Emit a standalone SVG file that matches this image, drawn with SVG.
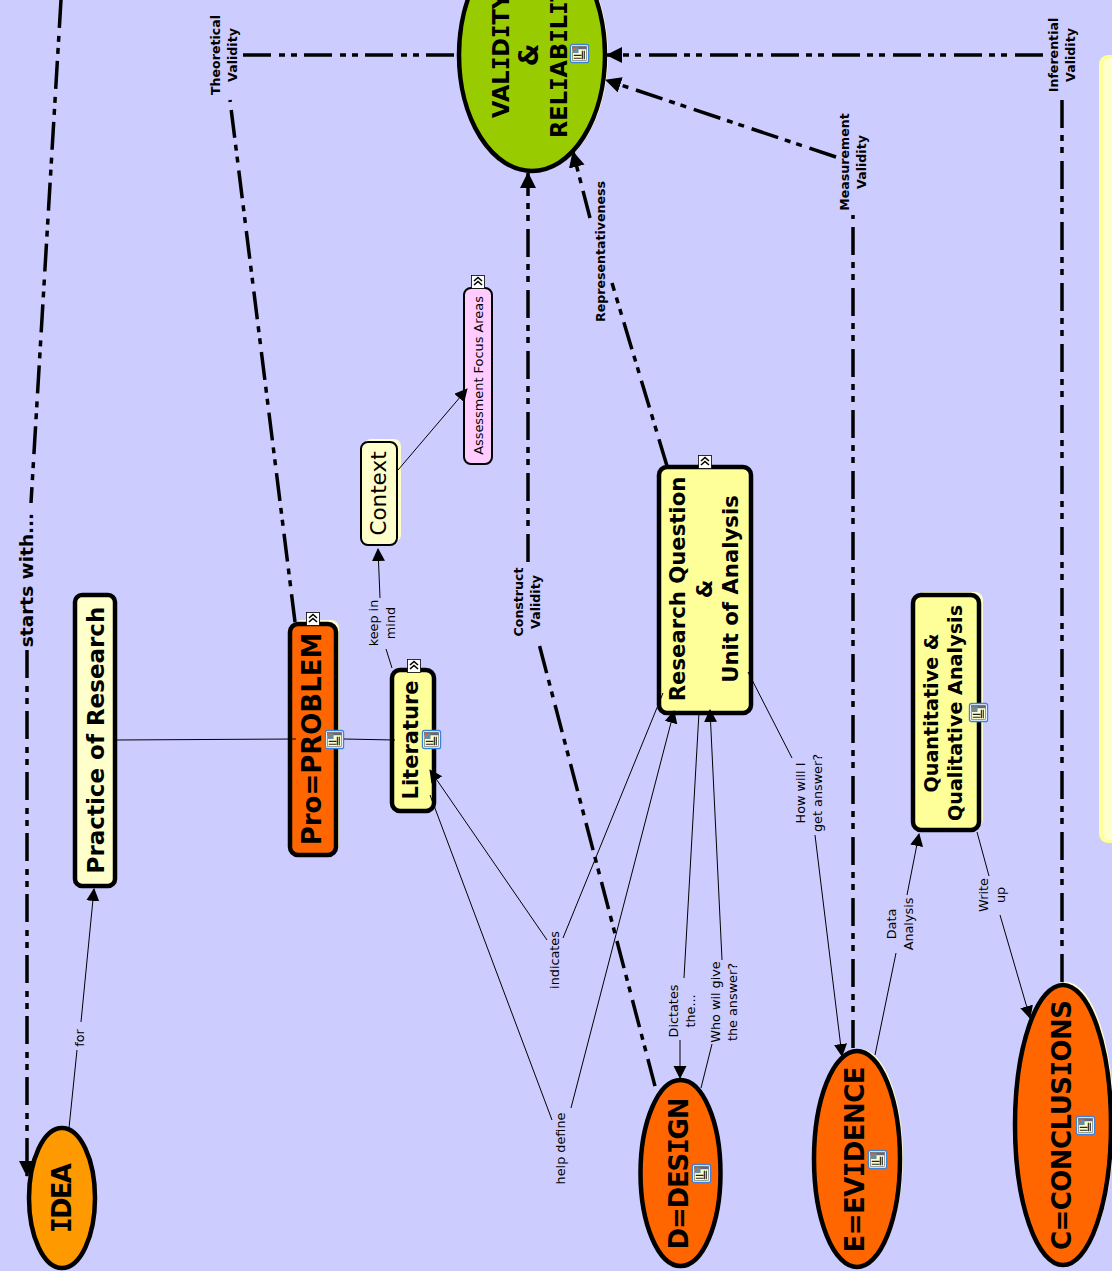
<svg xmlns="http://www.w3.org/2000/svg" xmlns:xlink="http://www.w3.org/1999/xlink" width="1112" height="1271" viewBox="0 0 1112 1271">
<style>
text{font-family:"DejaVu Sans",sans-serif;text-anchor:middle;fill:#000}
.m{font-weight:700;font-size:26px}
.v{font-weight:700;font-size:22.500px;text-anchor:start}
.i{font-family:"DejaVu Sans Mono",monospace}
.b{font-weight:700}
.l{font-size:12.800px}
.lb{font-size:12.600px;font-weight:700}
.n{stroke:#000;stroke-width:4.5}
.s{fill:#ffffcc}
.t{fill:none;stroke:#000;stroke-width:1}
.d{fill:none;stroke:#000;stroke-width:3.5;stroke-dasharray:28 8 6 6 6 7}
</style>
<defs>
<marker id="a" markerUnits="userSpaceOnUse" markerWidth="16" markerHeight="16" refX="12" refY="6.500" orient="auto"><path d="M0 0L13 6.500L0 13Z" fill="#000"/></marker>
<marker id="A" markerUnits="userSpaceOnUse" markerWidth="18" markerHeight="18" refX="15" refY="8" orient="auto"><path d="M0 0L16 8L0 16Z" fill="#000"/></marker>
<symbol id="ic" viewBox="0 0 20 20" overflow="visible">
<rect x=".5" y=".5" width="19" height="19" rx="2" fill="#fff" stroke="#3a82e0" stroke-width="1.400"/>
<rect x="2.500" y="2.500" width="15" height="15" fill="#ffffcc" stroke="#555" stroke-width=".6"/>
<rect x="2.500" y="2.500" width="15" height="3" fill="#667"/>
<rect x="3" y="3.500" width="6" height="6" fill="#6a8aa0"/>
<rect x="3.500" y="4" width="2" height="2" fill="#e2662c"/>
<path d="M4 12h8M4 15h8M13 7v9M15 7v9" stroke="#222" stroke-width="1.200"/>
</symbol>
<symbol id="ex" viewBox="0 0 14 14" overflow="visible">
<rect x=".5" y=".5" width="13" height="13" fill="#fff" stroke="#000" stroke-width=".8"/>
<path d="M3 6l4-3.500l4 3.500M3 10l4-3.500l4 3.500" fill="none" stroke="#000" stroke-width="1.600"/>
</symbol>
</defs>
<rect id="background" width="1112" height="1271" fill="#ccccff"/>
<g id="note"><rect x="1099" y="55" width="40" height="788" rx="9" fill="#ffff99"/><rect x="1103" y="58" width="40" height="782" rx="7" fill="#ffffcc"/></g>
<g id="idea"><ellipse class="n" cx="62" cy="1198" rx="33" ry="70" fill="#ff9900"/><text class="m" transform="translate(71,1198) rotate(-90)" textLength="70"><tspan class="i">I</tspan>DEA</text></g>
<g id="practice"><rect class="n" x="75" y="595" width="40" height="291" rx="7" fill="#ffffcc"/><text class="b" font-size="23" transform="translate(104,740) rotate(-90)">Practice of Research</text></g>
<g id="problem"><rect class="s" x="294" y="620" width="45" height="232" rx="8"/><rect class="n" x="290" y="624" width="46" height="231" rx="8" fill="#ff6600"/><text class="m" transform="translate(321,739) rotate(-90)">Pro=PROBLEM</text><use xlink:href="#ic" href="#ic" x="325" y="730" width="19" height="19"/><use xlink:href="#ex" href="#ex" x="306" y="612" width="14" height="14"/></g>
<g id="literature"><rect class="n" x="392" y="670" width="42" height="141" rx="8" fill="#ffff99"/><text class="b" font-size="21" transform="translate(418,740) rotate(-90)">Literature</text><use xlink:href="#ic" href="#ic" x="422" y="730" width="19" height="19"/><use xlink:href="#ex" href="#ex" x="407" y="659" width="14" height="14"/></g>
<g id="context"><rect class="s" x="364" y="439" width="37" height="103" rx="7"/><rect x="361" y="442" width="36" height="103" rx="7" fill="#ffffcc" stroke="#000" stroke-width="2"/><text font-size="21.500" transform="translate(386,493.500) rotate(-90)">Context</text></g>
<g id="assessment"><rect x="464" y="288" width="28" height="176" rx="7" fill="#ffccff" stroke="#000" stroke-width="2"/><text font-size="12.900" transform="translate(483,375.500) rotate(-90)">Assessment Focus Areas</text><use xlink:href="#ex" href="#ex" x="471" y="275" width="14" height="14"/></g>
<g id="research"><rect class="n" x="659" y="467" width="92" height="246" rx="8" fill="#ffff99"/><text class="b" font-size="21.200" transform="translate(685,589) rotate(-90)"><tspan x="0">Research Question</tspan><tspan x="0" dy="26.500">&amp;</tspan><tspan x="0" dy="26.500">Unit of Analysis</tspan></text><use xlink:href="#ex" href="#ex" x="698" y="455" width="14" height="14"/></g>
<g id="quant"><rect class="s" x="917" y="592" width="66" height="235" rx="8"/><rect class="n" x="913" y="595" width="66" height="235" rx="8" fill="#ffff99"/><text class="b" font-size="19.200" transform="translate(938,713) rotate(-90)"><tspan x="0">Quantitative &amp;</tspan><tspan x="0" dy="23.500">Qualitative Analysis</tspan></text><use xlink:href="#ic" href="#ic" x="969" y="703" width="19" height="19"/></g>
<g id="validity"><ellipse class="s" cx="535" cy="55" rx="73" ry="116"/><ellipse class="n" cx="532" cy="55" rx="73" ry="116" fill="#99cc00"/><text class="v" transform="translate(509,118) rotate(-90)">VAL<tspan class="i">I</tspan>D<tspan class="i">I</tspan>TY</text><text class="m" transform="translate(538,55) rotate(-90)">&amp;</text><text class="v" transform="translate(567,138) rotate(-90)">REL<tspan class="i">I</tspan>AB<tspan class="i">I</tspan>L<tspan class="i">I</tspan>TY</text><use xlink:href="#ic" href="#ic" x="570" y="44" width="19" height="19"/></g>
<g id="design"><ellipse class="n" cx="680.500" cy="1173" rx="40" ry="93" fill="#ff6600"/><text class="m" transform="translate(688,1173.500) rotate(-90)" textLength="152">D=DES<tspan class="i">I</tspan>GN</text><use xlink:href="#ic" href="#ic" x="692" y="1164" width="19" height="19"/></g>
<g id="evidence"><ellipse class="s" cx="860" cy="1157" rx="43" ry="108"/><ellipse class="n" cx="857" cy="1159" rx="43" ry="108" fill="#ff6600"/><text class="m" transform="translate(864,1159.500) rotate(-90)" textLength="186">E=EV<tspan class="i">I</tspan>DENCE</text><use xlink:href="#ic" href="#ic" x="868" y="1150" width="19" height="19"/></g>
<g id="conclusions"><ellipse class="s" cx="1066" cy="1123" rx="48" ry="141"/><ellipse class="n" cx="1063" cy="1125" rx="48" ry="140" fill="#ff6600"/><text class="m" transform="translate(1071,1125) rotate(-90)" textLength="250">C=CONCLUS<tspan class="i">I</tspan>ONS</text><use xlink:href="#ic" href="#ic" x="1076" y="1116" width="19" height="19"/></g>
<g id="connectors">
<path class="d" d="M61 0L31 503"/>
<path class="d" d="M27 650L27 1176" marker-end="url(#A)"/>
<path class="t" d="M69 1128L77 1050"/>
<path class="t" d="M81 1022L94 889" marker-end="url(#a)"/>
<path class="t" d="M115 740L296 739M344 739L395 740" stroke-width="1.200"/>
<path class="t" d="M392 668L386 649"/>
<path class="t" d="M380 598L378 549" marker-end="url(#a)"/>
<path class="t" d="M398 470L467 389" marker-end="url(#a)"/>
<path class="d" d="M295 622L230 100"/>
<path class="d" d="M243 55L455 55"/>
<path class="d" d="M656 1090L538 640" stroke-dashoffset="-4"/>
<path class="d" d="M528 562L528 173" marker-end="url(#A)"/>
<path class="d" d="M667 466L612 283"/>
<path class="d" d="M590 218L573 152" marker-end="url(#A)"/>
<path class="d" d="M853 1048L853 215"/>
<path class="d" d="M836 157L606 80" marker-end="url(#A)"/>
<path class="d" d="M1062 982L1062 100"/>
<path class="d" d="M1043 55L607 55" marker-end="url(#A)"/>
<path class="t" d="M563 938L663 693"/>
<path class="t" d="M547 940L430 770" marker-end="url(#a)"/>
<path class="t" d="M552 1120L430 795"/>
<path class="t" d="M571 1108L674 711" marker-end="url(#a)"/>
<path class="t" d="M684 978L699 712"/>
<path class="t" d="M680 1040L680 1078" marker-end="url(#a)"/>
<path class="t" d="M701 1088L712 1044"/>
<path class="t" d="M722 960L710 710" marker-end="url(#a)"/>
<path class="t" d="M748 672L792 758"/>
<path class="t" d="M815 835L842 1056" marker-end="url(#a)"/>
<path class="t" d="M875 1055L896 953"/>
<path class="t" d="M907 895L919 834" marker-end="url(#a)"/>
<path class="t" d="M977 832L989 876"/>
<path class="t" d="M1000 915L1030 1018" marker-end="url(#a)"/>
</g>
<g id="labels">
<text class="b" font-size="18.500" transform="translate(33,580) rotate(-90)">starts with...</text>
<text class="l" transform="translate(84,1038) rotate(-90)">for</text>
<text class="lb" transform="translate(220,55) rotate(-90)"><tspan x="0">Theoretical</tspan><tspan x="0" dy="17">Validity</tspan></text>
<text class="lb" transform="translate(1058,55) rotate(-90)"><tspan x="0">Inferential</tspan><tspan x="0" dy="17">Validity</tspan></text>
<text class="lb" transform="translate(849,162) rotate(-90)"><tspan x="0">Measurement</tspan><tspan x="0" dy="17">Validity</tspan></text>
<text class="lb" transform="translate(605,251.500) rotate(-90)">Representativeness</text>
<text class="lb" transform="translate(523,602) rotate(-90)"><tspan x="0">Construct</tspan><tspan x="0" dy="17">Validity</tspan></text>
<text class="l" transform="translate(378,623) rotate(-90)"><tspan x="0">keep in</tspan><tspan x="0" dy="17">mind</tspan></text>
<text class="l" transform="translate(559,960) rotate(-90)">indicates</text>
<text class="l" transform="translate(565,1148.500) rotate(-90)">help define</text>
<text class="l" transform="translate(678,1011) rotate(-90)"><tspan x="0">Dictates</tspan><tspan x="0" dy="17">the...</tspan></text>
<text class="l" transform="translate(720,1002) rotate(-90)"><tspan x="0">Who wil give</tspan><tspan x="0" dy="17">the answer?</tspan></text>
<text class="l" transform="translate(805,793) rotate(-90)"><tspan x="0">How will I</tspan><tspan x="0" dy="17">get answer?</tspan></text>
<text class="l" transform="translate(896,924) rotate(-90)"><tspan x="0">Data</tspan><tspan x="0" dy="17">Analysis</tspan></text>
<text class="l" transform="translate(988,895) rotate(-90)"><tspan x="0">Write</tspan><tspan x="0" dy="17">up</tspan></text>
</g>
</svg>
